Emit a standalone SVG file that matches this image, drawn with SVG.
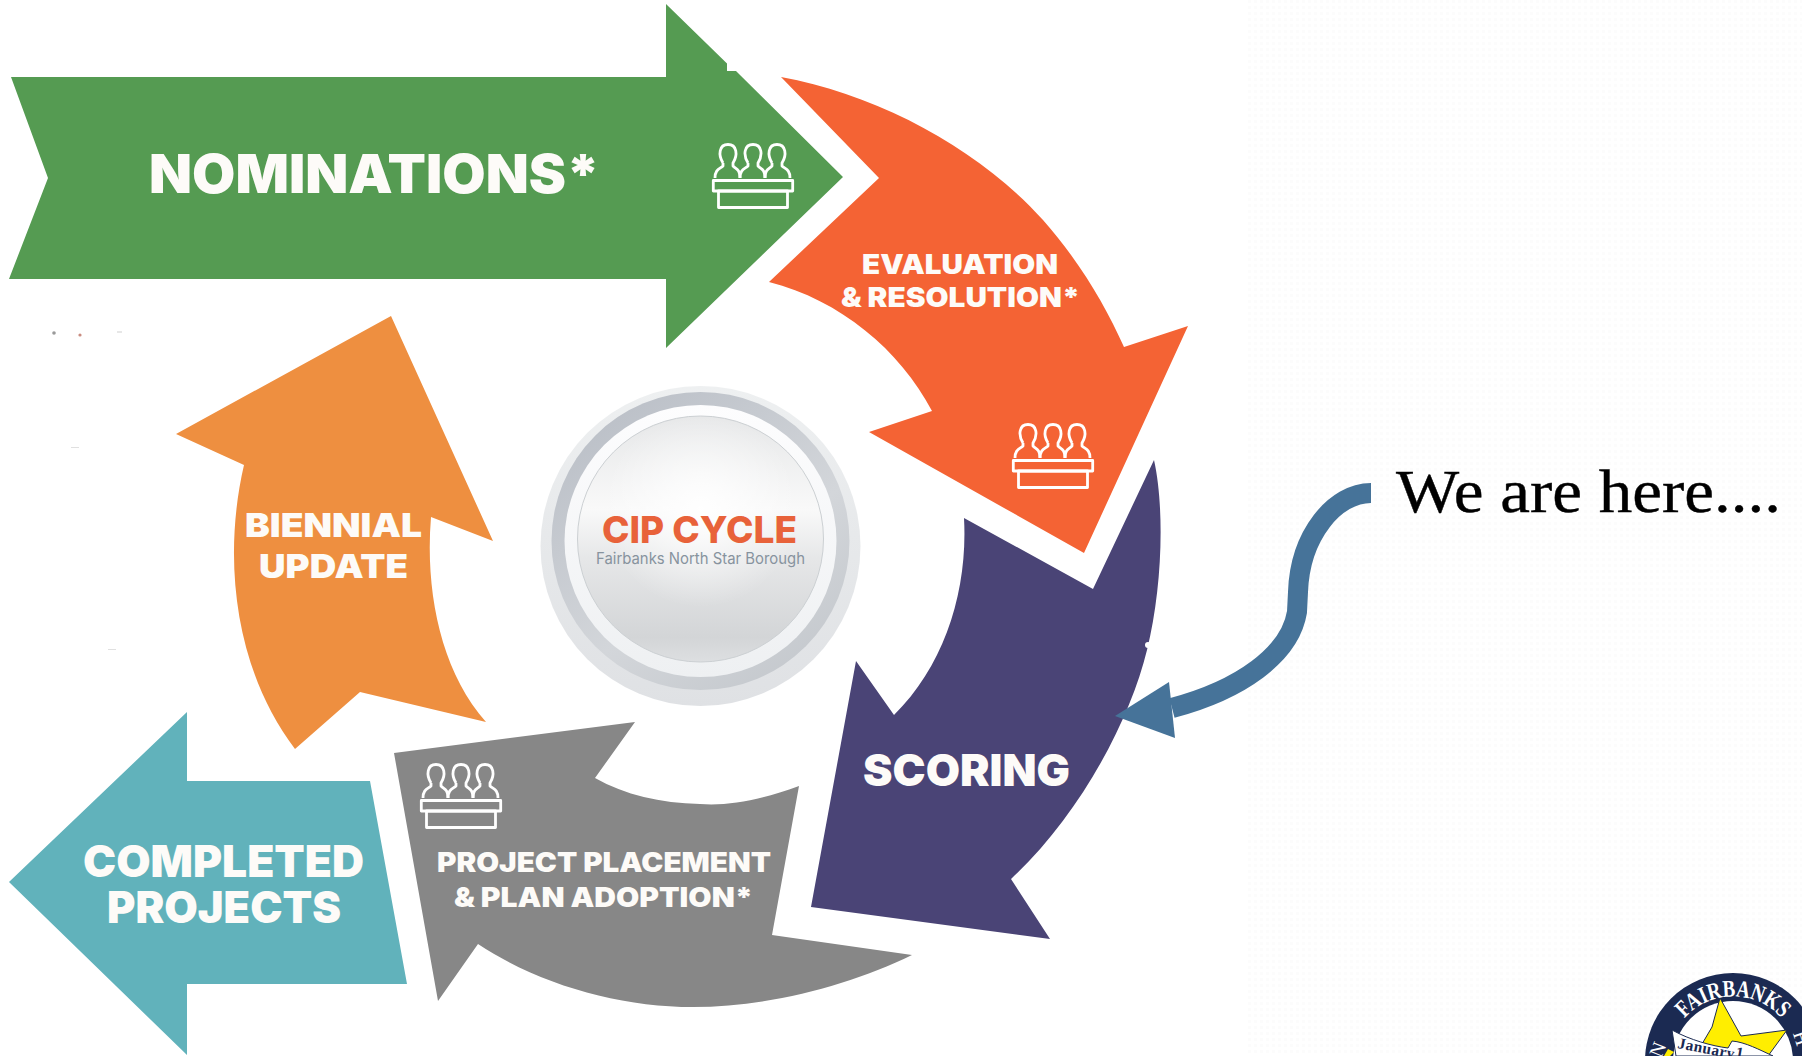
<svg xmlns="http://www.w3.org/2000/svg" width="1802" height="1056" viewBox="0 0 1802 1056">
<style>
.lbl{font-family:"Inter","Liberation Sans",sans-serif;font-weight:900;fill:#fdfbf8;text-anchor:start}
.ic{fill:none;stroke:#fff;stroke-width:2.8;stroke-linejoin:round}
.sl{font-family:"Liberation Serif",serif;fill:#fff}
.bn{font-family:"Liberation Serif",serif;fill:#1b2a52;font-weight:700;font-size:15.500px;letter-spacing:.4px}
</style>
<defs>
<pattern id="tex" width="6" height="6" patternUnits="userSpaceOnUse"><rect x="0" y="0" width="3" height="3" fill="#fcfcfc"/></pattern>
<linearGradient id="disc" x1="0" y1="0" x2="0" y2="1"><stop offset="0" stop-color="#e6e7e8"/><stop offset="0.38" stop-color="#f9f9f9"/><stop offset="0.58" stop-color="#e6e7e8"/><stop offset="0.9" stop-color="#d3d5d7"/><stop offset="1" stop-color="#dddfe1"/></linearGradient>
<radialGradient id="glow" cx="0.5" cy="0.38" r="0.4"><stop offset="0" stop-color="#ffffff" stop-opacity="0.95"/><stop offset="1" stop-color="#ffffff" stop-opacity="0"/></radialGradient>
<linearGradient id="rimA" x1="0" y1="0" x2="0" y2="1"><stop offset="0" stop-color="#eef0f1"/><stop offset="1" stop-color="#dfe1e4"/></linearGradient>
<linearGradient id="rimB" x1="0.15" y1="0" x2="0.85" y2="1"><stop offset="0" stop-color="#b9bec6"/><stop offset="0.6" stop-color="#d3d6da"/><stop offset="1" stop-color="#c3c7cc"/></linearGradient>
<linearGradient id="rimC" x1="0" y1="0" x2="0" y2="1"><stop offset="0" stop-color="#fdfdfe"/><stop offset="1" stop-color="#eef0f2"/></linearGradient>
<symbol id="podium" viewBox="0 0 82 66" width="82" height="66" overflow="visible">
<path class="ic" d="M11 20C6 12 7 1.500 16 1.500C25 1.500 26 12 21 20L21 23C24 26 28 26 28 35M11 20L11 23C8 26 3 26 3 35"/>
<path class="ic" d="M36 20C31 12 32 1.500 41 1.500C50 1.500 51 12 46 20L46 23C49 26 53 26 53 35M36 20L36 23C33 26 28 26 28 35"/>
<path class="ic" d="M60 20C55 12 56 1.500 65 1.500C74 1.500 75 12 70 20L70 23C73 26 78 26 78 35M60 20L60 23C57 26 53 26 53 35"/>
<rect class="ic" x="1.300" y="37.500" width="79.400" height="10.500"/>
<rect class="ic" x="6.500" y="48" width="69" height="16.500"/>
</symbol>
<path id="sealArc" d="M1672 1039A65 65 0 0 1 1794 1039"/>
</defs>
<rect width="1802" height="1056" fill="#ffffff"/>
<rect x="1245" y="0" width="557" height="1056" fill="url(#tex)"/>
<g id="specks"><circle cx="54" cy="333" r="1.800" fill="#9a9a9a"/><circle cx="80" cy="335" r="1.600" fill="#c98c80"/><rect x="117" y="331.500" width="5" height="1" fill="#cfcfcf"/><rect x="71" y="447" width="8" height="1" fill="#e0e0e0"/><rect x="108" y="649" width="8" height="1" fill="#e0e0e0"/></g>

<g id="node-nominations">
<path fill="#559b52" d="M11 77H666V4L727 63.500V71H736L740 75L843 177L666 348V279H9L48 178Z"/>
<text class="lbl" x="149" y="193" font-size="54" textLength="451" lengthAdjust="spacingAndGlyphs">NOMINATIONS*</text>
<use href="#podium" x="712" y="143"/>
</g>
<g id="node-evaluation">
<path fill="#f46334" d="M781 77C880 95 980 150 1043 220C1080 262 1105 305 1124 347L1188 326L1084 553L869 432L932 411C900 350 840 300 769 282L879 178Z"/>
<text class="lbl" x="862" y="274" font-size="27" textLength="196" lengthAdjust="spacingAndGlyphs">EVALUATION</text>
<text class="lbl" x="841" y="307" font-size="27" textLength="239" lengthAdjust="spacingAndGlyphs">&amp; RESOLUTION*</text>
<use href="#podium" x="1012" y="423"/>
</g>
<g id="node-scoring">
<path fill="#4a4476" d="M964 518L1093 589L1154 460C1165 510 1162 590 1147 650C1130 720 1080 815 1011 879L1050 939L811 907L856 661L894 715C945 665 968 590 964 518Z"/>
<circle cx="1148" cy="645" r="3" fill="#fff"/>
<text class="lbl" x="863" y="786" font-size="44" textLength="207" lengthAdjust="spacingAndGlyphs">SCORING</text>
</g>
<g id="node-placement">
<path fill="#878787" d="M635 722L394 753L438 1001L478 944C540 985 620 1007 693 1007C770 1007 850 985 912 955L772 935L799 786C760 800 730 806 700 804C660 803 625 795 595 778Z"/>
<use href="#podium" x="420" y="763"/>
<text class="lbl" x="437" y="872" font-size="27" textLength="334" lengthAdjust="spacingAndGlyphs">PROJECT PLACEMENT</text>
<text class="lbl" x="454" y="907" font-size="27" textLength="299" lengthAdjust="spacingAndGlyphs">&amp; PLAN ADOPTION*</text>
</g>
<g id="node-completed">
<path fill="#61b2bb" d="M187 712L9 882L187 1055V984H407L370 781H187Z"/>
<text class="lbl" x="83" y="877" font-size="44" textLength="281" lengthAdjust="spacingAndGlyphs">COMPLETED</text>
<text class="lbl" x="107" y="923" font-size="44" textLength="234" lengthAdjust="spacingAndGlyphs">PROJECTS</text>
</g>
<g id="node-biennial">
<path fill="#ee8f40" d="M391 316L176 434L244 465C222 560 235 670 295 749L360 692L486 722C440 670 425 590 431 517L493 541Z"/>
<text class="lbl" x="245" y="537" font-size="33" textLength="177" lengthAdjust="spacingAndGlyphs">BIENNIAL</text>
<text class="lbl" x="259" y="578" font-size="33" textLength="149" lengthAdjust="spacingAndGlyphs">UPDATE</text>
</g>
<g id="node-cip">
<circle cx="700.500" cy="546" r="160" fill="url(#rimA)"/>
<circle cx="700.500" cy="541" r="149" fill="url(#rimB)"/>
<circle cx="700.500" cy="541" r="136" fill="url(#rimC)"/>
<circle cx="700.500" cy="539" r="123" fill="url(#disc)" stroke="#ccd0d3" stroke-width="1"/>
<circle cx="700.500" cy="539" r="122" fill="url(#glow)"/>
<text x="602" y="543" font-family="Inter,'Liberation Sans',sans-serif" font-weight="800" font-size="37" fill="#e8623a" textLength="195" lengthAdjust="spacingAndGlyphs">CIP CYCLE</text>
<text x="596" y="564" font-family="Inter,'Liberation Sans',sans-serif" font-size="15.500" fill="#87939e" textLength="209" lengthAdjust="spacingAndGlyphs">Fairbanks North Star Borough</text>
</g>
<g id="node-here">
<text x="1396" y="512" font-family="'Liberation Serif',serif" font-size="62" fill="#000" stroke="#000" stroke-width=".4" textLength="385" lengthAdjust="spacingAndGlyphs">We are here....</text>
</g>
<g id="connectors">
<path d="M1371 493C1335 493 1300 535 1298 592L1297 612C1290 655 1240 690 1172 708" fill="none" stroke="#467399" stroke-width="20"/>
<polygon points="1115,716 1169,682 1175,738" fill="#467399"/>
</g>
<g id="node-seal">
<circle cx="1733" cy="1061" r="88" fill="#1b2a52"/>
<circle cx="1733" cy="1061" r="60" fill="#fff"/>
<text class="sl" font-size="24" font-weight="700" text-anchor="middle"><textPath href="#sealArc" startOffset="50%" textLength="110" lengthAdjust="spacingAndGlyphs">FAIRBANKS</textPath></text>
<text class="sl" font-size="20" transform="translate(1664 1052) rotate(-68)" text-anchor="middle">N</text>
<text class="sl" font-size="20" transform="translate(1795 1040) rotate(72)" text-anchor="middle">H</text>
<polygon points="1720,998 1741,1036 1787,1030 1768,1056 1690,1056 1702,1044 1712,1027" fill="#ffee00" stroke="#1b2a52" stroke-width="1"/>
<polygon points="1668,1049 1674,1052 1670,1056 1664,1056" fill="#ffee00"/>
<path d="M1672 1030C1690 1040 1712 1046 1728 1048L1732 1041C1745 1042 1760 1050 1773 1056H1676Z" fill="#fff" stroke="#1b2a52" stroke-width="1"/>
<text class="bn" transform="translate(1677 1048) rotate(11)">January</text>
<text class="bn" transform="translate(1735 1057) rotate(10)">1</text>
</g>
</svg>
